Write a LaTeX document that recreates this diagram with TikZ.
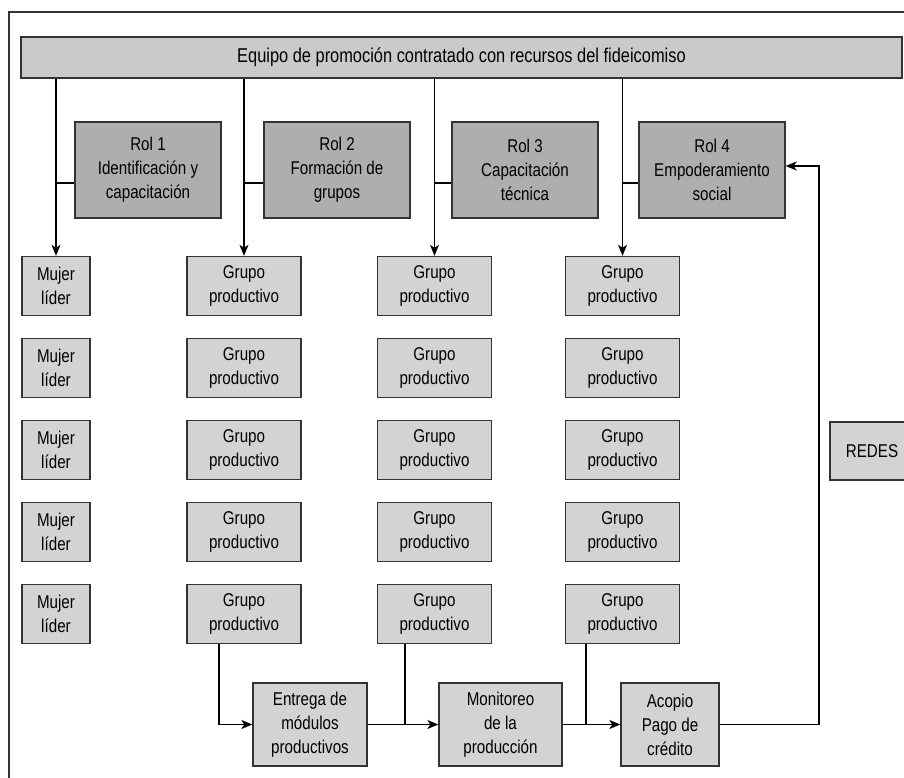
\documentclass[tikz,border=0pt]{standalone}
\usepackage{fontspec}
\setmainfont[FakeStretch=0.82]{Liberation Sans}
\usetikzlibrary{positioning,arrows.meta}
\definecolor{barfill}{HTML}{C9CACC}
\definecolor{rolfill}{HTML}{ACAEB0}
\definecolor{boxfill}{HTML}{D2D3D5}
\definecolor{edge}{HTML}{333333}
\begin{document}
\begin{tikzpicture}[x=1pt,y=1pt]
                        \tikzstyle{every node}=[font=\fontsize{18.5}{24}\selectfont,align=center,inner sep=0]
                        \tikzstyle{box}=[draw=edge,line width=1.4,rectangle,fill=boxfill,minimum width=114,minimum height=59]
                        \tikzstyle{box0}=[box,fill=barfill,minimum width=881,minimum height=41,font=\fontsize{20}{24}\selectfont]
                        \tikzstyle{box1}=[box,fill=rolfill,minimum width=146,minimum height=96]
                        \tikzstyle{mujer}=[box,minimum width=68]
                        \tikzstyle{paso}=[box,minimum height=83]
                        \tikzstyle{wire}=[line width=1.1,black]
                        \tikzstyle{link}=[wire,-{Stealth[length=11pt,width=9pt,inset=3pt]}]
                        \useasboundingbox (0,0) rectangle (904,-777);
                        \clip (0,0) rectangle (904,-777);
                        {
                            \draw[edge,line width=1.5] (9,-800) -- (9,-12) -- (920,-12);

                            \node[box0] (bar) at (461.5,-57.5) {Equipo de promoción contratado con recursos del fideicomiso};

                            \node[box1] (r1) at (148,-170) {Rol 1\\Identificación y\\capacitación};
                            \node[box1] (r2) at (337,-170) {Rol 2\\Formación de\\grupos};
                            \node[box1] (r3) at (525,-170) {Rol 3\\Capacitación\\técnica};
                            \node[box1] (r4) at (712,-170) {Rol 4\\Empoderamiento\\social};

                            \newcount\dist
                            \foreach \number in {1,2,3,4,5} {
                                \dist=\number
                                \multiply\dist by -82
                                \advance\dist by -204
                                \node[mujer] (m\number) at (56,\the\dist) {Mujer\\líder};
                                \node[box] (g1\number) at (244,\the\dist) {Grupo\\productivo};
                                \node[box] (g2\number) at (434.5,\the\dist) {Grupo\\productivo};
                                \node[box] (g3\number) at (622.5,\the\dist) {Grupo\\productivo};
                            }

                            \node[box,minimum width=84,minimum height=58] (redes) at (872,-451) {REDES};

                            \node[paso] (e1) at (310,-724.5) {Entrega de\\módulos\\productivos};
                            \node[paso,minimum width=123] (e2) at (500.5,-724.5) {Monitoreo\\de la\\producción};
                            \node[paso,minimum width=98] (e3) at (670,-724.5) {Acopio\\Pago de\\crédito};

                            % from the team down to each column
                            \foreach \col in {m1,g11,g21,g31} {
                                \draw[link] (bar.south -| \col.north) -- (\col.north);
                            }
                            \draw[wire] ([yshift=-13pt]r1.west) -- ([yshift=-13pt]r1.west -| m1.north);
                            \draw[wire] ([yshift=-13pt]r2.west) -- ([yshift=-13pt]r2.west -| g11.north);
                            \draw[wire] ([yshift=-13pt]r3.west) -- ([yshift=-13pt]r3.west -| g21.north);
                            \draw[wire] ([yshift=-13pt]r4.west) -- ([yshift=-13pt]r4.west -| g31.north);

                            % lower chain
                            \coordinate (j1) at (219,0);
                            \coordinate (j2) at (405,0);
                            \coordinate (j3) at (586,0);
                            \coordinate (j4) at (819,-400);
                            \draw[link] (g15.south -| j1) |- (e1.west);
                            \draw[link] (e1.east) -- (e2.west);
                            \draw[wire] (g25.south -| j2) -- (e2.west -| j2);
                            \draw[link] (e2.east) -- (e3.west);
                            \draw[wire] (g35.south -| j3) -- (e3.west -| j3);
                            \draw[link] (e3.east) -| (j4) |- ([yshift=4pt]r4.east);
                        }
                    \end{tikzpicture}
\end{document}
